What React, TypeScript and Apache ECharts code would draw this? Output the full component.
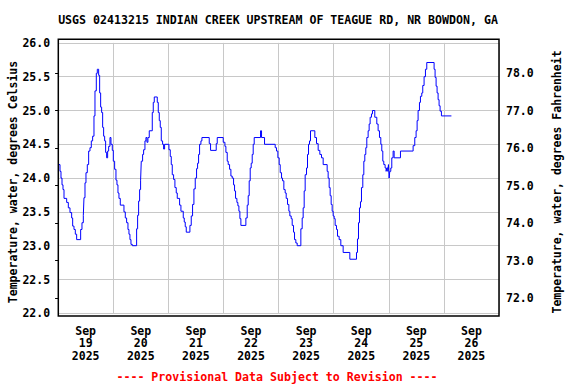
import React, { useEffect, useRef } from "react";
import * as echarts from "echarts";

// hours since Sep 19 2025 00:00
const hours = [
  0, 0.83, 1.26, 1.7, 2.13, 2.57, 3.73, 4.45, 5.18, 5.9, 6.34, 6.92, 7.5, 8.08, 9.82, 10.4, 10.98, 11.27, 11.71, 12.14,
  12.72, 13.3, 13.88, 14.46, 15.04, 15.62, 16.06, 16.64, 17.07, 17.66, 18.09, 18.53, 18.96, 19.4, 19.83, 20.27, 20.7,
  21.14, 21.57, 22.01, 22.59, 23.02, 23.6, 24.04, 24.62, 25.2, 25.63, 26.07, 26.5, 27.08, 28.68, 29.26, 29.84, 30.42,
  30.86, 31.29, 31.73, 32.31, 34.19, 34.63, 35.06, 35.5, 35.93, 36.22, 36.8, 37.24, 37.82, 38.25, 38.69, 39.12, 39.7,
  41.01, 41.44, 41.88, 43.19, 43.62, 44.06, 44.49, 44.93, 45.51, 45.94, 46.38, 48.26, 48.84, 49.28, 49.71, 50.3, 50.87,
  51.45, 51.89, 52.91, 53.49, 54.5, 54.94, 55.37, 55.81, 57.4, 57.98, 58.56, 59.14, 59.72, 60.3, 60.74, 61.18, 61.61,
  62.19, 62.63, 65.82, 66.4, 68.86, 69.3, 71.91, 72.64, 73.07, 73.65, 74.08, 74.67, 75.25, 75.83, 76.41, 76.84, 77.28,
  77.86, 78.29, 78.73, 79.16, 79.6, 81.77, 82.35, 82.79, 83.22, 83.66, 84.09, 84.53, 84.96, 85.4, 88.16, 88.59, 89.9,
  94.54, 95.12, 95.7, 96.28, 96.72, 97.3, 97.73, 98.31, 98.89, 99.33, 99.91, 100.49, 100.92, 101.5, 101.94, 102.52,
  102.96, 103.53, 104.11, 105.71, 106.29, 106.72, 107.16, 107.59, 108.18, 108.61, 109.05, 109.48, 109.92, 111.8,
  112.53, 113.25, 113.98, 114.71, 115.43, 117.17, 117.6, 118.04, 118.47, 118.91, 119.35, 119.78, 120.22, 120.65,
  121.23, 121.67, 122.39, 123.12, 124.13, 127.04, 129.94, 130.37, 130.81, 131.24, 131.68, 132.11, 132.69, 133.13,
  133.56, 134.0, 134.43, 135.01, 135.45, 135.88, 136.47, 136.9, 137.91, 138.79, 139.36, 139.95, 140.53, 140.96, 141.4,
  141.83, 142.41, 142.85, 143.14, 143.57, 143.86, 144.15, 144.44, 144.88, 145.31, 145.89, 146.33, 149.09, 154.6,
  155.32, 155.9, 156.34, 156.77, 157.36, 157.79, 158.37, 158.8, 159.38, 159.97, 160.55, 163.74, 164.17, 164.61, 165.04,
  165.48, 165.91, 166.35, 166.93, 171.28,
];

const tempC = [
  24.2, 24.1, 24.0, 23.9, 23.83, 23.7, 23.64, 23.56, 23.49, 23.41, 23.29, 23.24, 23.17, 23.09, 23.24, 23.34, 23.45,
  23.71, 23.93, 24.08, 24.2, 24.4, 24.45, 24.55, 24.62, 24.92, 25.29, 25.55, 25.61, 25.52, 25.26, 25.05, 24.97, 24.75,
  24.62, 24.55, 24.38, 24.3, 24.4, 24.47, 24.6, 24.5, 24.41, 24.25, 24.13, 23.97, 23.9, 23.78, 23.7, 23.6, 23.5, 23.41,
  23.34, 23.24, 23.17, 23.09, 23.02, 23.0, 23.25, 23.45, 23.66, 23.83, 23.97, 24.25, 24.35, 24.42, 24.55, 24.6, 24.53,
  24.6, 24.7, 24.97, 25.12, 25.2, 25.12, 24.97, 24.85, 24.75, 24.55, 24.5, 24.43, 24.5, 24.42, 24.32, 24.2, 24.05,
  23.98, 23.86, 23.78, 23.7, 23.6, 23.51, 23.41, 23.35, 23.28, 23.2, 23.3, 23.44, 23.61, 23.84, 24.0, 24.14, 24.22,
  24.35, 24.5, 24.55, 24.6, 24.51, 24.41, 24.51, 24.6, 24.53, 24.47, 24.38, 24.25, 24.2, 24.13, 24.03, 24.0, 23.9,
  23.81, 23.7, 23.64, 23.59, 23.51, 23.4, 23.3, 23.41, 23.6, 23.74, 23.96, 24.15, 24.22, 24.35, 24.5, 24.6, 24.7, 24.6,
  24.5, 24.45, 24.4, 24.3, 24.2, 24.08, 24.0, 23.96, 23.83, 23.78, 23.7, 23.61, 23.51, 23.44, 23.4, 23.3, 23.2, 23.09,
  23.04, 23.0, 23.25, 23.41, 23.56, 23.81, 24.05, 24.15, 24.35, 24.5, 24.55, 24.7, 24.6, 24.51, 24.41, 24.35, 24.3,
  24.2, 24.1, 24.0, 23.86, 23.74, 23.61, 23.51, 23.44, 23.4, 23.3, 23.24, 23.14, 23.09, 23.0, 22.9, 22.8, 22.9, 23.1,
  23.34, 23.56, 23.65, 23.86, 24.05, 24.25, 24.35, 24.45, 24.6, 24.7, 24.8, 24.9, 24.95, 25.0, 24.9, 24.8, 24.7, 24.6,
  24.5, 24.4, 24.25, 24.2, 24.15, 24.1, 24.15, 24.1, 24.2, 24.0, 24.1, 24.15, 24.3, 24.4, 24.3, 24.4, 24.48, 24.6,
  24.7, 24.85, 25.0, 25.12, 25.21, 25.26, 25.37, 25.5, 25.61, 25.71, 25.61, 25.49, 25.36, 25.26, 25.16, 25.07, 24.99,
  24.92, 24.92,
];

const dayLabels = ["19", "20", "21", "22", "23", "24", "25", "26"];
const monthLabel = "Sep";
const yearLabel = "2025";
const fahrenheitTicks = [72, 73, 74, 75, 76, 77, 78];

const FONT = '"DejaVu Sans Mono", monospace';

export default function App() {
  const ref = useRef<HTMLDivElement>(null);
  useEffect(() => {
    const chart = echarts.init(ref.current!, null, { renderer: "svg" });
    const labelStyle = {
      fontFamily: FONT,
      fontWeight: "bold" as const,
      fontSize: 11.5,
      color: "#000",
    };
    chart.setOption({
      animation: false,
      backgroundColor: "#fff",
      grid: { left: 58.1, right: 77, top: 42.9, bottom: 70.7, containLabel: false },
      xAxis: [
        {
          type: "value",
          min: 0,
          max: 192,
          interval: 24,
          axisLine: { show: false },
          axisTick: { show: false },
          axisLabel: { show: false },
          splitLine: { show: true, lineStyle: { color: "#c8c8c8", width: 1 } },
        },
        {
          type: "value",
          min: 0,
          max: 192,
          interval: 12,
          position: "bottom",
          axisLine: { show: false },
          axisTick: { show: false },
          splitLine: { show: false },
          axisLabel: {
            ...labelStyle,
            lineHeight: 12.8,
            margin: 11,
            formatter: (v: number) => {
              if (v % 24 !== 12) return "";
              const idx = (v - 12) / 24;
              return `${monthLabel}\n${dayLabels[idx]}\n${yearLabel}`;
            },
          },
        },
      ],
      yAxis: [
        {
          type: "value",
          min: 22,
          max: 26,
          interval: 0.5,
          position: "left",
          axisLine: { show: false },
          axisTick: { show: false },
          axisLabel: { ...labelStyle, margin: 8, formatter: (v: number) => v.toFixed(1) },
          splitLine: { show: true, lineStyle: { color: "#c8c8c8", width: 1 } },
        },
        {
          type: "value",
          min: 22 * 1.8 + 32,
          max: 26 * 1.8 + 32,
          position: "right",
          axisLine: { show: false },
          axisTick: { show: true, inside: true, length: 3, lineStyle: { color: "#000" }, customValues: fahrenheitTicks },
          axisLabel: {
            ...labelStyle,
            margin: 7,
            customValues: fahrenheitTicks,
            formatter: (v: number) => v.toFixed(1),
          },
          splitLine: { show: false },
        },
      ],
      series: [
        {
          type: "line",
          xAxisIndex: 0,
          yAxisIndex: 0,
          step: "end",
          showSymbol: false,
          symbol: "none",
          data: hours.map((h, i) => [h, tempC[i]]),
          lineStyle: { color: "#0000ff", width: 1 },
          z: 5,
        },
      ],
      graphic: [
        {
          type: "rect",
          shape: { x: 58.3, y: 39.3, width: 440.7, height: 276.7 },
          style: { fill: "none", stroke: "#000", lineWidth: 1.5 },
          z: 100,
        },
        {
          type: "text",
          x: 278,
          y: 20,
          style: {
            text: "USGS 02413215 INDIAN CREEK UPSTREAM OF TEAGUE RD, NR BOWDON, GA",
            fontFamily: FONT,
            fontWeight: "bold",
            fontSize: 11.6,
            fill: "#000",
            align: "center",
            verticalAlign: "middle",
          },
        },
        {
          type: "text",
          x: 13,
          y: 182,
          rotation: Math.PI / 2,
          style: {
            text: "Temperature, water, degrees Celsius",
            fontFamily: FONT,
            fontWeight: "bold",
            fontSize: 11.5,
            fill: "#000",
            align: "center",
            verticalAlign: "middle",
          },
        },
        {
          type: "text",
          x: 557,
          y: 182,
          rotation: Math.PI / 2,
          style: {
            text: "Temperature, water, degrees Fahrenheit",
            fontFamily: FONT,
            fontWeight: "bold",
            fontSize: 11.5,
            fill: "#000",
            align: "center",
            verticalAlign: "middle",
          },
        },
        {
          type: "text",
          x: 277,
          y: 376.5,
          style: {
            text: "---- Provisional Data Subject to Revision ----",
            fontFamily: FONT,
            fontWeight: "bold",
            fontSize: 11.6,
            fill: "#ff0000",
            align: "center",
            verticalAlign: "middle",
          },
        },
      ],
    });
    return () => chart.dispose();
  }, []);
  return <div ref={ref} style={{ position: "fixed", left: 0, top: 0, width: 576, height: 384 }} />;
}
